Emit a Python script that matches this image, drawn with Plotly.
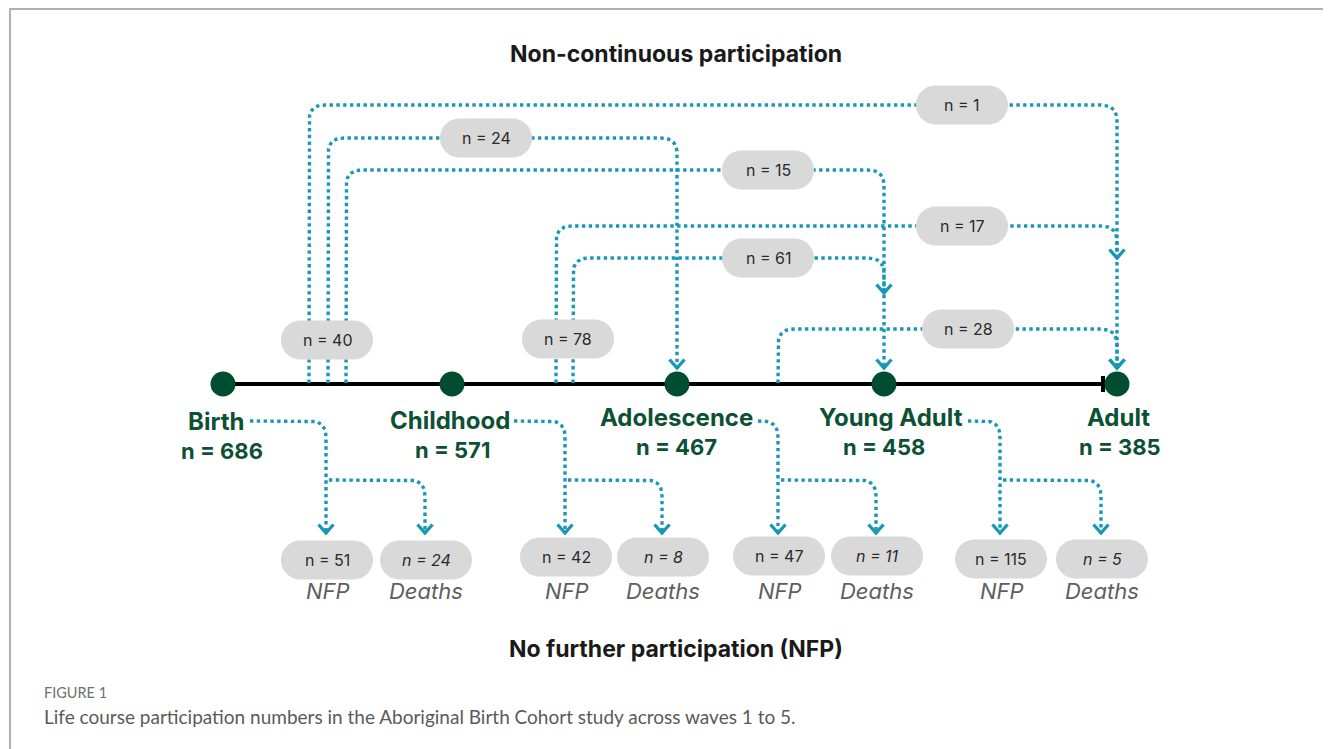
import numpy as np
import plotly.graph_objects as go

# ---------------- data ----------------
stages = ["Birth", "Childhood", "Adolescence", "Young Adult", "Adult"]
stage_n = [686, 571, 467, 458, 385]

skip_from = ["Birth", "Birth", "Birth", "Childhood", "Childhood", "Adolescence"]
skip_to = ["Adult", "Adolescence", "Young Adult", "Adult", "Young Adult", "Adult"]
skip_n = [1, 24, 15, 17, 61, 28]

nfp_n = [51, 42, 47, 115]
death_n = [24, 8, 11, 5]

title_top = "Non-continuous participation"
title_bottom = "No further participation (NFP)"
fig_label = "FIGURE 1"
caption = "Life course participation numbers in the Aboriginal Birth Cohort study across waves 1 to 5."

# ---------------- layout (pixel space) ----------------
W, H = 1331, 749
OFF = 8  # page body margin compensation
stage_x = [223, 452, 677, 884, 1117]
line_y = 384
stage_label_x = [216, 450, 676, 891, 1118]
stage_n_x = [222, 452, 676, 884, 1120]
stage_split_y = [437, 436, 433, 433, 433]

skip_lane_y = [105, 138, 170, 226, 258, 329]
skip_depart_x = [309, 328, 346, 556, 573, 778]
skip_label_x = [962, 486, 768, 962, 768, 968]
skip_arrow_y = [368, 368, 368, 258, 293, 368]
total_pill = {"Birth": (327, 340), "Childhood": (568, 339)}

exit_start_x = [250, 514, 758, 968]
exit_y = 421
drop_x = [326, 565, 778, 1000]
death_x = [425, 662, 876, 1101]
branch_y = 480
tip_y = 533
pill_y = [560, 557, 556, 559]
sub_label_y = 591

TEAL = "#1798b5"
GREEN = "#004d31"
TXTGREEN = "#0d5134"
PILL = "#d9d9d9"
PW, PH = 92, 39


def rounded(pts, r=16, n=12):
    pts = [np.array(p, float) for p in pts]
    out = [pts[0]]
    for i in range(1, len(pts) - 1):
        A, P, B = pts[i - 1], pts[i], pts[i + 1]
        l1, l2 = np.linalg.norm(P - A), np.linalg.norm(B - P)
        u1, u2 = (P - A) / l1, (B - P) / l2
        rr = min(r, l1 * 0.8, l2 * 0.8)
        s, e = P - u1 * rr, P + u2 * rr
        for t in np.linspace(0, 1, n):
            out.append((1 - t) ** 2 * s + 2 * (1 - t) * t * P + t ** 2 * e)
    out.append(pts[-1])
    arr = np.array(out)
    return arr[:, 0], arr[:, 1]


def pill_path(cx, cy, w=PW, h=PH):
    r = h / 2
    k = 0.5523 * r
    x0, x1 = cx - w / 2 + r, cx + w / 2 - r
    y0, y1 = cy - r, cy + r
    return (f"M {x0},{y0} L {x1},{y0} "
            f"C {x1 + k},{y0} {x1 + r},{cy - k} {x1 + r},{cy} "
            f"C {x1 + r},{cy + k} {x1 + k},{y1} {x1},{y1} "
            f"L {x0},{y1} "
            f"C {x0 - k},{y1} {x0 - r},{cy + k} {x0 - r},{cy} "
            f"C {x0 - r},{cy - k} {x0 - k},{y0} {x0},{y0} Z")


fig = go.Figure()
DOT = dict(color=TEAL, width=3.4, dash="3.4px,3.4px")

# timeline
fig.add_trace(go.Scatter(x=[stage_x[0], stage_x[-1] - 14], y=[line_y, line_y], mode="lines",
                         line=dict(color="#000000", width=4), hoverinfo="skip"))
fig.add_trace(go.Scatter(x=[stage_x[-1] - 14, stage_x[-1] - 14], y=[line_y - 8, line_y + 8], mode="lines",
                         line=dict(color="#000000", width=4), hoverinfo="skip"))

arrows = []
# non-continuous flows
for i in range(len(skip_n)):
    fx = skip_depart_x[i]
    tx = stage_x[stages.index(skip_to[i])]
    xs, ys = rounded([(fx, line_y - 1), (fx, skip_lane_y[i]), (tx, skip_lane_y[i]), (tx, skip_arrow_y[i] - 2)])
    fig.add_trace(go.Scatter(x=xs, y=ys, mode="lines", line=DOT, hoverinfo="skip"))
    arrows.append((tx, skip_arrow_y[i]))

# exits (NFP / deaths)
for j in range(len(nfp_n)):
    xs, ys = rounded([(exit_start_x[j], exit_y), (drop_x[j], exit_y), (drop_x[j], tip_y - 2)])
    fig.add_trace(go.Scatter(x=xs, y=ys, mode="lines", line=DOT, hoverinfo="skip"))
    xs, ys = rounded([(drop_x[j] + 3, branch_y), (death_x[j], branch_y), (death_x[j], tip_y - 2)])
    fig.add_trace(go.Scatter(x=xs, y=ys, mode="lines", line=DOT, hoverinfo="skip"))
    arrows.append((drop_x[j], tip_y))
    arrows.append((death_x[j], tip_y))

for ax_, ay_ in arrows:
    fig.add_trace(go.Scatter(x=[ax_ - 7.5, ax_, ax_ + 7.5], y=[ay_ - 8.5, ay_, ay_ - 8.5], mode="lines",
                             line=dict(color=TEAL, width=3.4), hoverinfo="skip"))

# nodes
fig.add_trace(go.Scatter(x=stage_x, y=[line_y] * len(stages), mode="markers",
                         marker=dict(size=25, color=GREEN), hoverinfo="skip"))

shapes = []
ann = []
FONT = "Inter"


def add_pill(cx, cy, text, italic=False):
    shapes.append(dict(type="path", path=pill_path(cx, cy), fillcolor=PILL,
                       line=dict(width=0), layer="above", xref="x", yref="y"))
    t = f"<i>{text}</i>" if italic else text
    ann.append(dict(x=cx, y=cy, text=t, showarrow=False, xref="x", yref="y",
                    font=dict(family=FONT, size=16, color="#2a2a2a")))


for i in range(len(skip_n)):
    add_pill(skip_label_x[i], skip_lane_y[i], f"n = {skip_n[i]}")

for s, (cx, cy) in total_pill.items():
    tot = sum(n for f, n in zip(skip_from, skip_n) if f == s)
    add_pill(cx, cy, f"n = {tot}")

for j in range(len(nfp_n)):
    add_pill(drop_x[j] + 1, pill_y[j], f"n = {nfp_n[j]}")
    add_pill(death_x[j] + 1, pill_y[j], f"n = {death_n[j]}", italic=True)
    ann.append(dict(x=drop_x[j] + 2, y=sub_label_y, text="<i>NFP</i>", showarrow=False, xref="x", yref="y",
                    font=dict(family=FONT, size=22, color="#5e5e5e")))
    ann.append(dict(x=death_x[j] + 1, y=sub_label_y, text="<i>Deaths</i>", showarrow=False, xref="x", yref="y",
                    font=dict(family=FONT, size=22, color="#5e5e5e")))

for k in range(len(stages)):
    ann.append(dict(x=stage_label_x[k], y=stage_split_y[k], text=f"<b>{stages[k]}</b>", showarrow=False,
                    xref="x", yref="y", yanchor="bottom", borderpad=0,
                    font=dict(family=FONT, size=24, color=TXTGREEN)))
    ann.append(dict(x=stage_n_x[k], y=stage_split_y[k], text=f"<b>n = {stage_n[k]}</b>", showarrow=False,
                    xref="x", yref="y", yanchor="top", borderpad=0,
                    font=dict(family=FONT, size=22, color=TXTGREEN)))

ann.append(dict(x=676, y=54, text=f"<b>{title_top}</b>", showarrow=False, xref="x", yref="y",
                font=dict(family=FONT, size=23, color="#1a1a1a")))
ann.append(dict(x=676, y=649, text=f"<b>{title_bottom}</b>", showarrow=False, xref="x", yref="y",
                font=dict(family=FONT, size=23, color="#1a1a1a")))
ann.append(dict(x=42, y=692, text=fig_label, showarrow=False, xref="x", yref="y", xanchor="left",
                font=dict(family="Lato", size=14.5, color="#707070")))
ann.append(dict(x=42, y=716, text=caption, showarrow=False, xref="x", yref="y", xanchor="left",
                font=dict(family="Lato", size=19, color="#5a5a5a")))

# frame lines
shapes.append(dict(type="line", xref="x", yref="y", x0=9, x1=W + OFF, y0=9, y1=9,
                   line=dict(color="#b0b0b0", width=2), layer="above"))
shapes.append(dict(type="line", xref="x", yref="y", x0=10, x1=10, y0=9, y1=H + OFF,
                   line=dict(color="#b0b0b0", width=2), layer="above"))

fig.update_layout(
    width=W, height=H, autosize=False,
    margin=dict(l=0, r=0, t=0, b=0),
    paper_bgcolor="white", plot_bgcolor="white",
    showlegend=False,
    xaxis=dict(range=[OFF, W + OFF], visible=False, fixedrange=True),
    yaxis=dict(range=[H + OFF, OFF], visible=False, fixedrange=True),
    shapes=shapes, annotations=ann,
)

fig.write_html("out.html")
